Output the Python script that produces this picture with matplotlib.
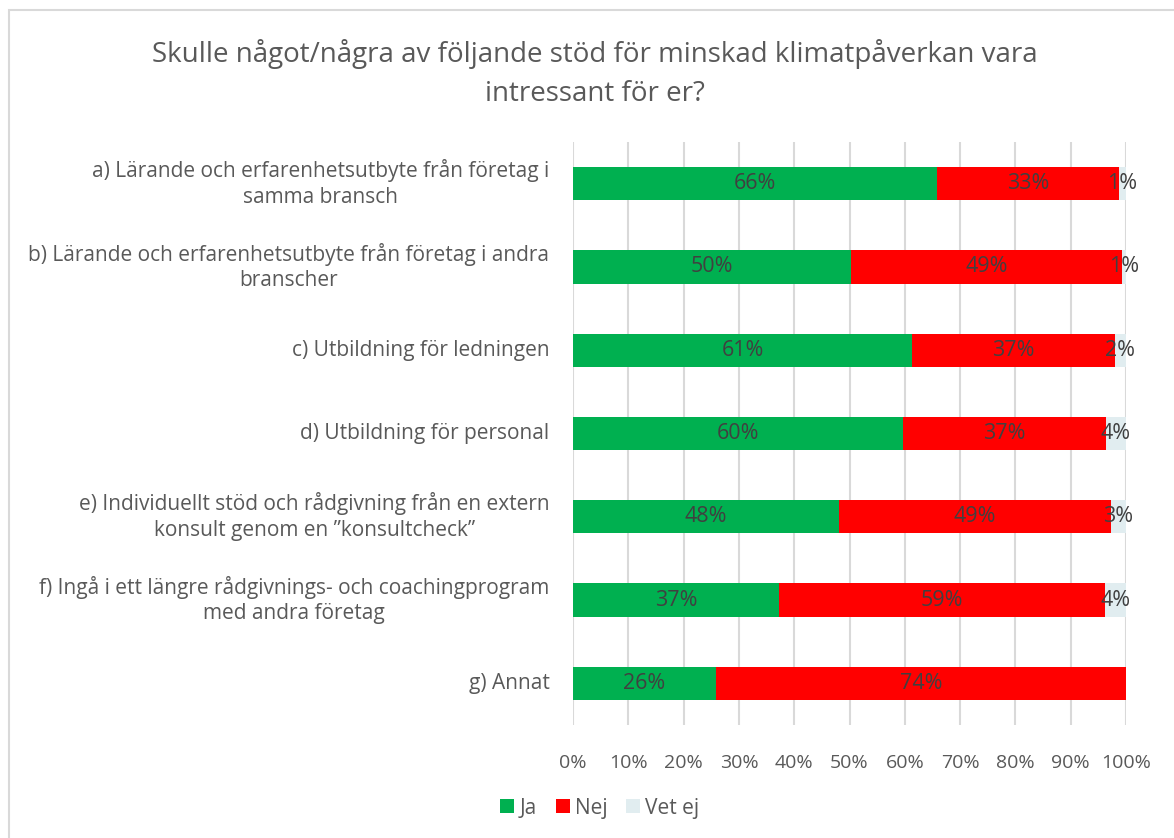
import matplotlib
matplotlib.use("Agg")
import matplotlib.pyplot as plt
from matplotlib.patches import Rectangle, Patch
import numpy as np

plt.rcParams['font.family'] = ['Open Sans', 'DejaVu Sans']

categories = [
    "a) Lärande och erfarenhetsutbyte från företag i\nsamma bransch",
    "b) Lärande och erfarenhetsutbyte från företag i andra\nbranscher",
    "c) Utbildning för ledningen",
    "d) Utbildning för personal",
    "e) Individuellt stöd och rådgivning från en extern\nkonsult genom en \u201dkonsultcheck\u201d",
    "f) Ingå i ett längre rådgivnings- och coachingprogram\nmed andra företag",
    "g) Annat",
]
ja = [65.8, 50.3, 61.3, 59.7, 48.1, 37.3, 25.9]
nej = [32.9, 48.9, 36.7, 36.6, 49.1, 58.9, 74.1]
vet_ej = [1.3, 0.8, 2.0, 3.7, 2.8, 3.8, 0.0]
series_names = ["Ja", "Nej", "Vet ej"]
colors = ["#00B050", "#FF0000", "#E1EDF0"]
xticks = [0, 10, 20, 30, 40, 50, 60, 70, 80, 90, 100]
title = "Skulle något/några av följande stöd för minskad klimatpåverkan vara\nintressant för er?"

fig = plt.figure(figsize=(11.74, 8.38), dpi=100)
W, H = 1174, 838

# chart border
fig.patches.append(Rectangle((9 / W, -0.05), 1.2, 1 - 10 / H + 0.05, transform=fig.transFigure,
                             fill=False, edgecolor="#D9D9D9", linewidth=1.5))

ax = fig.add_axes([573 / W, 1 - 725 / H, (1126 - 573) / W, (725 - 142) / H])
y = np.arange(len(categories))
left = np.zeros(len(categories))
for vals, name, col in zip([ja, nej, vet_ej], series_names, colors):
    vals = np.array(vals)
    ax.barh(y, vals, left=left, height=0.4, color=col, label=name, zorder=3)
    for yi, l, v in zip(y, left, vals):
        if v > 0.5:
            ax.text(l + v / 2, yi, f"{v:.0f}%", ha="center", va="center",
                    fontsize=15.5, color="#404040", zorder=4)
    left = left + vals

ax.set_xlim(0, 100)
ax.set_ylim(len(categories) - 0.5, -0.5)
ax.set_xticks(xticks)
ax.set_xticklabels([f"{t}%" for t in xticks], fontsize=14, color="#595959")
ax.set_yticks(y)
ax.set_yticklabels(categories, fontsize=15, color="#595959", linespacing=1.3, ha="right",
                   va="center")
ax.tick_params(axis="both", length=0)
ax.tick_params(axis="x", pad=21)
ax.tick_params(axis="y", pad=17)
for lab in ax.get_yticklabels():
    lab.set_multialignment("center")
ax.grid(axis="x", color="#D9D9D9", linewidth=1.5, zorder=0)
for s in ax.spines.values():
    s.set_visible(False)

fig.text(595 / W, 1 - 73.5 / H, title, ha="center", va="center", fontsize=20,
         color="#595959", linespacing=1.55)

handles = [Patch(facecolor=c, edgecolor="none") for c in colors]
fig.legend(handles, series_names, loc="center", bbox_to_anchor=(600 / W, 1 - 808 / H),
           ncol=3, frameon=False, fontsize=15, labelcolor="#595959",
           handlelength=0.67, handleheight=0.67, handletextpad=0.25, columnspacing=0.9)

fig.savefig("out.png", dpi=100)
